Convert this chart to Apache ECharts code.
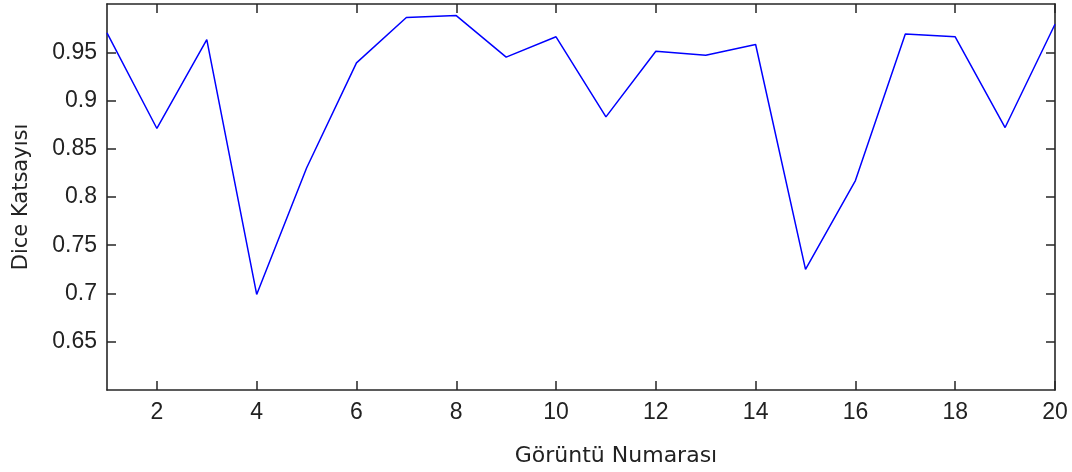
<!DOCTYPE html>
<html>
<head>
<meta charset="utf-8">
<script src="https://cdn.jsdelivr.net/npm/echarts@6/dist/echarts.min.js"></script>
<style>html,body{margin:0;padding:0;background:#fff;}#c{width:1072px;height:472px;}</style>
</head>
<body>
<div id="c"></div>
<script>
const imageNumbers = [1,2,3,4,5,6,7,8,9,10,11,12,13,14,15,16,17,18,19,20];
const diceValues = [0.970,0.871,0.963,0.699,0.830,0.939,0.986,0.988,0.945,0.966,0.883,0.951,0.947,0.958,0.725,0.817,0.969,0.966,0.872,0.979];
const xTickValues = [2,4,6,8,10,12,14,16,18,20];
const yTickValues = [0.65,0.7,0.75,0.8,0.85,0.9,0.95];

const axisColor = '#262626';
const seriesData = imageNumbers.map((n, i) => [n, diceValues[i]]);

const baseX = {
  type: 'value', min: 1, max: 20,
  axisLine: { show: true, onZero: false, lineStyle: { color: axisColor, width: 1.6 } },
  axisTick: { show: true, inside: true, length: 9, customValues: xTickValues, lineStyle: { color: axisColor, width: 1.5 } },
  splitLine: { show: false }
};
const baseY = {
  type: 'value', min: 0.6, max: 1.0,
  axisLine: { show: true, onZero: false, lineStyle: { color: axisColor, width: 1.6 } },
  axisTick: { show: true, inside: true, length: 9, customValues: yTickValues, lineStyle: { color: axisColor, width: 1.5 } },
  splitLine: { show: false }
};

const chart = echarts.init(document.getElementById('c'), null, { renderer: 'canvas' });
chart.setOption({
  animation: false,
  backgroundColor: '#ffffff',
  grid: { left: 107, right: 17, top: 4, bottom: 82, containLabel: false },
  xAxis: [
    Object.assign({}, baseX, {
      position: 'bottom',
      name: 'Görüntü Numarası', nameLocation: 'middle', nameGap: 55,
      nameTextStyle: { fontFamily: 'DejaVu Sans', fontSize: 22, color: '#222', padding: [0, 0, 0, 70] },
      axisLabel: { show: true, customValues: xTickValues, margin: 11, fontFamily: 'Liberation Sans', fontSize: 23, color: '#222' }
    }),
    Object.assign({}, baseX, { position: 'top', axisLabel: { show: false } })
  ],
  yAxis: [
    Object.assign({}, baseY, {
      position: 'left',
      name: 'Dice Katsayısı', nameLocation: 'middle', nameGap: 75,
      nameTextStyle: { fontFamily: 'DejaVu Sans', fontSize: 21, color: '#222' },
      axisLabel: { show: true, customValues: yTickValues, margin: 10, fontFamily: 'Liberation Sans', fontSize: 23, color: '#222' }
    }),
    Object.assign({}, baseY, { position: 'right', axisLabel: { show: false } })
  ],
  series: [{
    type: 'line', data: seriesData, xAxisIndex: 0, yAxisIndex: 0,
    showSymbol: false, symbol: 'none',
    lineStyle: { color: '#0000ff', width: 1.5 },
    itemStyle: { color: '#0000ff' }
  }]
});
</script>
</body>
</html>
